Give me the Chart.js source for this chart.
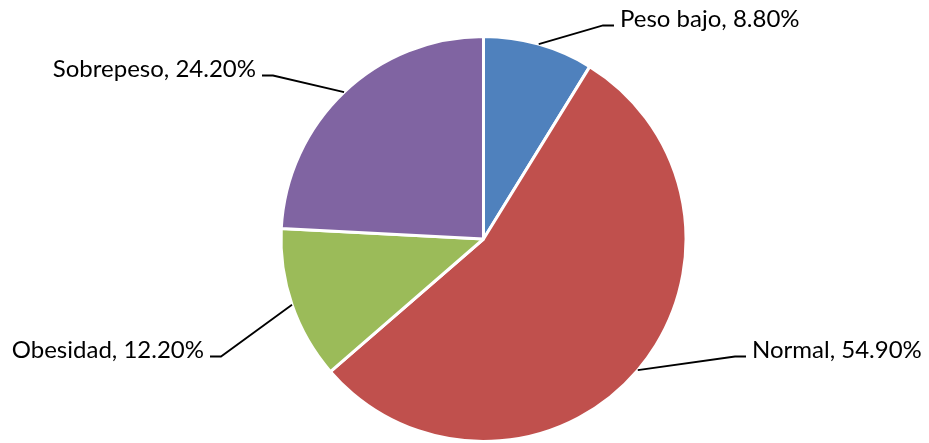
<!DOCTYPE html>
<html>
<head>
<meta charset="utf-8">
<script src="https://cdn.jsdelivr.net/npm/chart.js@4/dist/chart.umd.min.js"></script>
<style>
  html, body { margin: 0; padding: 0; background: #fff; }
  #wrap { width: 929px; height: 443px; }
</style>
</head>
<body>
<div id="wrap"><canvas id="imcChart" width="929" height="443"></canvas></div>
<script>
var categories = ["Peso bajo", "Normal", "Obesidad", "Sobrepeso"];
var percentages = [8.8, 54.9, 12.2, 24.2];
var sliceColors = ['#4F81BD', '#C0504D', '#9BBB59', '#8064A2'];

// where each leader line bends, relative to pie centre (dx, dy), and which side the text sits
var labelElbows = [[119.5, -213.5, 1], [251.5, 117.5, 1], [-262.5, 117.5, -1], [-210.5, -163.5, -1]];

var leaderLabels = {
  id: 'leaderLabels',
  afterDraw: function(chart) {
    var ctx = chart.ctx;
    var arcs = chart.getDatasetMeta(0).data;
    ctx.save();
    ctx.font = '24px Lato';
    ctx.fillStyle = '#000';
    ctx.strokeStyle = '#000';
    ctx.lineWidth = 1.8;
    arcs.forEach(function(arc, i) {
      var mid = (arc.startAngle + arc.endAngle) / 2;
      var sx = arc.x + Math.cos(mid) * arc.outerRadius;
      var sy = arc.y + Math.sin(mid) * arc.outerRadius;
      var e = labelElbows[i];
      var ex = arc.x + e[0], ey = arc.y + e[1];
      var tx = ex + e[2] * 11;
      ctx.beginPath();
      ctx.moveTo(sx, sy);
      ctx.lineTo(ex, ey);
      ctx.lineTo(tx, ey);
      ctx.stroke();
      var text = categories[i] + ', ' + percentages[i].toFixed(2) + '%';
      ctx.textBaseline = 'alphabetic';
      ctx.textAlign = e[2] > 0 ? 'left' : 'right';
      ctx.fillText(text, tx + e[2] * 6, ey + 1);
    });
    ctx.restore();
  }
};

var ctxEl = document.getElementById('imcChart');
var imcChart = new Chart(ctxEl, {
  type: 'pie',
  data: {
    labels: categories,
    datasets: [
      {
        data: percentages,
        backgroundColor: sliceColors,
        borderColor: '#fff',
        borderWidth: 3
      }
    ]
  },
  options: {
    responsive: false,
    animation: false,
    layout: { padding: { top: 35, bottom: 0, left: 38, right: 0 } },
    plugins: {
      legend: { display: false },
      tooltip: { enabled: false }
    }
  },
  plugins: [leaderLabels]
});
</script>
</body>
</html>
